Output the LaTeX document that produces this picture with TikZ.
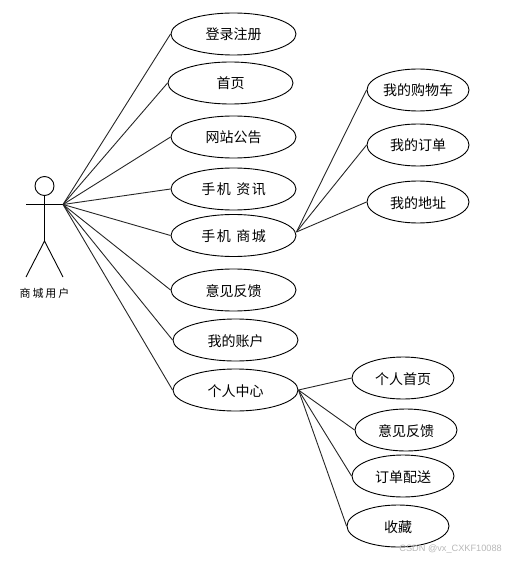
\documentclass[tikz,border=0pt]{standalone}
\usepackage{fontspec}
\setmainfont{Noto Sans CJK SC}
\newfontfamily\wmfont{Liberation Sans}
\usetikzlibrary{shapes.geometric}
\tikzset{
  usecase/.style={ellipse,draw=black,line width=0.9pt,minimum width=125pt,minimum height=42pt,inner sep=0pt,text height=12.5pt,text depth=0.5pt,font=\fontsize{14}{14}\selectfont},
  subcase/.style={usecase,minimum width=102pt},
  link/.style={draw=black!85,line width=0.9pt},
  actorline/.style={draw=black,line width=0.9pt}
}
\newcommand{\gapped}[4]{#1\hspace{1.5pt}#2\hspace{5.5pt}#3\hspace{1.5pt}#4}
\begin{document}
\begin{tikzpicture}[x=1pt,y=-1pt]
\useasboundingbox (0,0) rectangle (505,561);
% actor
\node[circle,draw=black,line width=0.9pt,minimum size=19pt,inner sep=0pt] (head) at (44.5,186) {};
\coordinate (crotch) at (44.5,241);
\coordinate (armL) at (26,204.5);
\coordinate (hub) at (63,204.5);
\coordinate (footL) at (26,277);
\coordinate (footR) at (63,277);
\draw[actorline] (head.south) -- (crotch) (armL) -- (hub) (footL) -- (crotch) -- (footR);
\node[font=\fontsize{11}{11}\selectfont] (actor) at (44.5,293) {商\,城\,用\,户};
% use cases
\node[usecase] (a1) at (233.5,34) {登录注册};
\node[usecase] (a2) at (230.5,83) {首页};
\node[usecase] (a3) at (233.5,137) {网站公告};
\node[usecase] (a4) at (233.5,189) {\gapped{手}{机}{资}{讯}};
\node[usecase] (a5) at (233.5,235.5) {\gapped{手}{机}{商}{城}};
\node[usecase] (a6) at (233.5,290) {意见反馈};
\node[usecase] (a7) at (235.5,340) {我的账户};
\node[usecase] (a8) at (235.5,390) {个人中心};
\node[subcase] (b1) at (418,90) {我的购物车};
\node[subcase] (b2) at (418,145) {我的订单};
\node[subcase] (b3) at (418,202) {我的地址};
\node[subcase] (c1) at (403,378) {个人首页};
\node[subcase] (c2) at (406,430) {意见反馈};
\node[subcase] (c3) at (403,476) {订单配送};
\node[subcase] (c4) at (398,526) {收藏};
% connectors
\coordinate (mallhub) at ([yshift=3.5pt]a5.east);
\foreach \n in {a1,a2,a3,a4,a5,a6,a7,a8} \draw[link] (hub) -- (\n.west);
\foreach \n in {b1,b2,b3} \draw[link] (mallhub) -- (\n.west);
\foreach \n in {c1,c2,c3,c4} \draw[link] (a8.east) -- (\n.west);
% watermark
\node[anchor=east,text=black!28,font=\wmfont\fontsize{9.2}{10}\selectfont,inner sep=0pt] (wm) at (502,549.5) {CSDN @vx\_CXKF10088};
\end{tikzpicture}
\end{document}
